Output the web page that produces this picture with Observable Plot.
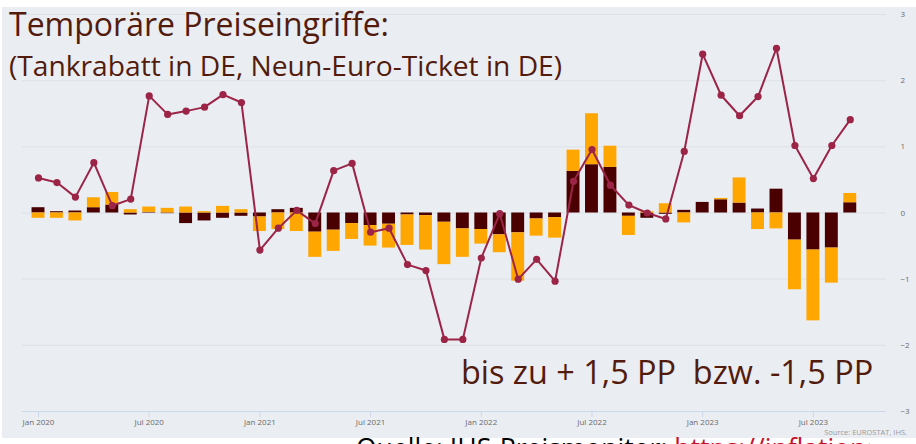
<!DOCTYPE html>
<html><head><meta charset="utf-8">
<script src="https://cdn.jsdelivr.net/npm/d3@7"></script>
<script src="https://cdn.jsdelivr.net/npm/@observablehq/plot@0.6"></script>
<style>
html,body{margin:0;padding:0;background:#fff;width:916px;height:444px;overflow:hidden;}
#wrap{position:relative;width:916px;height:444px;overflow:hidden;}
#panel{position:absolute;left:2px;top:7px;width:914px;height:431px;background:#eaedf2;}
#chart{position:absolute;left:0;top:0;}
.t{position:absolute;white-space:nowrap;font-family:"Open Sans",sans-serif;color:#531b0c;line-height:1;}
</style></head><body>
<div id="wrap">
<div id="panel"></div>
<div id="chart"></div>
<div class="t" style="left:9px;top:8px;font-size:32px;">Temporäre Preiseingriffe:</div>
<div class="t" style="left:9px;top:51px;font-size:28.2px;">(Tankrabatt in DE, Neun-Euro-Ticket in DE)</div>
<div class="t" style="left:461px;top:355px;font-size:32.4px;">bis zu + 1,5 PP&nbsp; bzw. -1,5 PP</div>
<div class="t" style="right:9px;top:429px;font-size:7.5px;color:#9a9a9a;">Source: EUROSTAT, IHS.</div>
<div class="t" style="left:356px;top:435px;width:514px;overflow:hidden;font-size:26.5px;color:#000;">Quelle: IHS-Preismonitor: <span style="color:#c8102e;">https://inflationsmonitor.de</span></div>
</div>
<script>
const months = [
  "2020-01","2020-02","2020-03","2020-04","2020-05","2020-06","2020-07","2020-08","2020-09","2020-10","2020-11","2020-12",
  "2021-01","2021-02","2021-03","2021-04","2021-05","2021-06","2021-07","2021-08","2021-09","2021-10","2021-11","2021-12",
  "2022-01","2022-02","2022-03","2022-04","2022-05","2022-06","2022-07","2022-08","2022-09","2022-10","2022-11","2022-12",
  "2023-01","2023-02","2023-03","2023-04","2023-05","2023-06","2023-07","2023-08","2023-09"
];
const lineValues = [
  0.53, 0.46, 0.24, 0.76, 0.11, 0.21, 1.77, 1.49, 1.54, 1.60, 1.79, 1.67,
  -0.56, -0.23, 0.04, -0.16, 0.64, 0.75, -0.29, -0.23, -0.78, -0.87, -1.91, -1.91,
  -0.68, -0.01, -1.00, -0.70, -1.03, 0.48, 0.96, 0.42, 0.12, 0.00, -0.09, 0.93,
  2.40, 1.78, 1.47, 1.76, 2.49, 1.02, 0.52, 1.02, 1.41
];
const darkValues = [
  0.08, 0.02, 0.03, 0.08, 0.12, -0.03, 0.01, -0.01, -0.16, -0.12, -0.08, -0.05,
  -0.06, 0.05, 0.07, -0.29, -0.26, -0.16, -0.19, -0.17, -0.03, -0.04, -0.14, -0.24,
  -0.25, -0.33, -0.30, -0.09, -0.07, 0.63, 0.73, 0.69, -0.05, -0.08, -0.02, 0.04,
  0.16, 0.20, 0.15, 0.06, 0.36, -0.41, -0.56, -0.53, 0.155
];
const orangeValues = [
  -0.08, -0.08, -0.12, 0.15, 0.19, 0.05, 0.08, 0.07, 0.09, 0.02, 0.10, 0.05,
  -0.22, -0.25, -0.28, -0.38, -0.32, -0.24, -0.31, -0.36, -0.46, -0.52, -0.64, -0.43,
  -0.22, -0.27, -0.73, -0.26, -0.31, 0.32, 0.77, 0.32, -0.29, 0.02, 0.14, -0.15,
  0.00, 0.02, 0.38, -0.25, -0.24, -0.75, -1.07, -0.53, 0.14
];
const tickMonths = ["2020-01","2020-07","2021-01","2021-07","2022-01","2022-07","2023-01","2023-07"];
const tickLabels = ["Jan 2020","Jul 2020","Jan 2021","Jul 2021","Jan 2022","Jul 2022","Jan 2023","Jul 2023"];
const yTicks = [-3, -2, -1, 0, 1, 2, 3];
const seriesNames = ["dark", "orange"];
const seriesColors = ["#4a0000", "#ffa600"];
const lineColor = "#9b2447";

const bars = [];
months.forEach((m, i) => {
  bars.push({month: m, series: "dark", value: darkValues[i]});
  bars.push({month: m, series: "orange", value: orangeValues[i]});
});
const points = months.map((m, i) => ({month: m, value: lineValues[i]}));

const chart = Plot.plot({
  width: 916,
  height: 444,
  marginTop: 14,
  marginBottom: 33,
  marginLeft: 22,
  marginRight: 30,
  style: {background: "transparent", color: "#6a6a6a", fontFamily: "'Open Sans', sans-serif", fontSize: "8px", overflow: "visible"},
  x: {type: "band", domain: months, range: [28.78, 859.0], paddingInner: 0.3, paddingOuter: 0.15, round: false,
      ticks: tickMonths, tickFormat: d => tickLabels[tickMonths.indexOf(d)], tickSize: 0, tickPadding: 8, label: null},
  y: {domain: [-3, 3], axis: "right", ticks: yTicks, tickSize: 0, tickPadding: 14,
      tickFormat: d => d < 0 ? "\u2212" + Math.abs(d) : String(d), label: null},
  color: {domain: seriesNames, range: seriesColors},
  marks: [
    Plot.ruleY(yTicks, {stroke: "#dde2e9", strokeWidth: 1}),
    Plot.ruleY([-3], {stroke: "#cdd7ea", strokeWidth: 1}),
    Plot.ruleX(tickMonths, {x: d => d, y1: -3, y2: -3.09, stroke: "#cdd7ea"}),
    Plot.barY(bars, {x: "month", y: "value", fill: "series"}),
    Plot.line(points, {x: "month", y: "value", stroke: lineColor, strokeWidth: 2}),
    Plot.dot(points, {x: "month", y: "value", fill: lineColor, r: 3.6})
  ]
});
document.getElementById("chart").appendChild(chart);
</script>
</body></html>
